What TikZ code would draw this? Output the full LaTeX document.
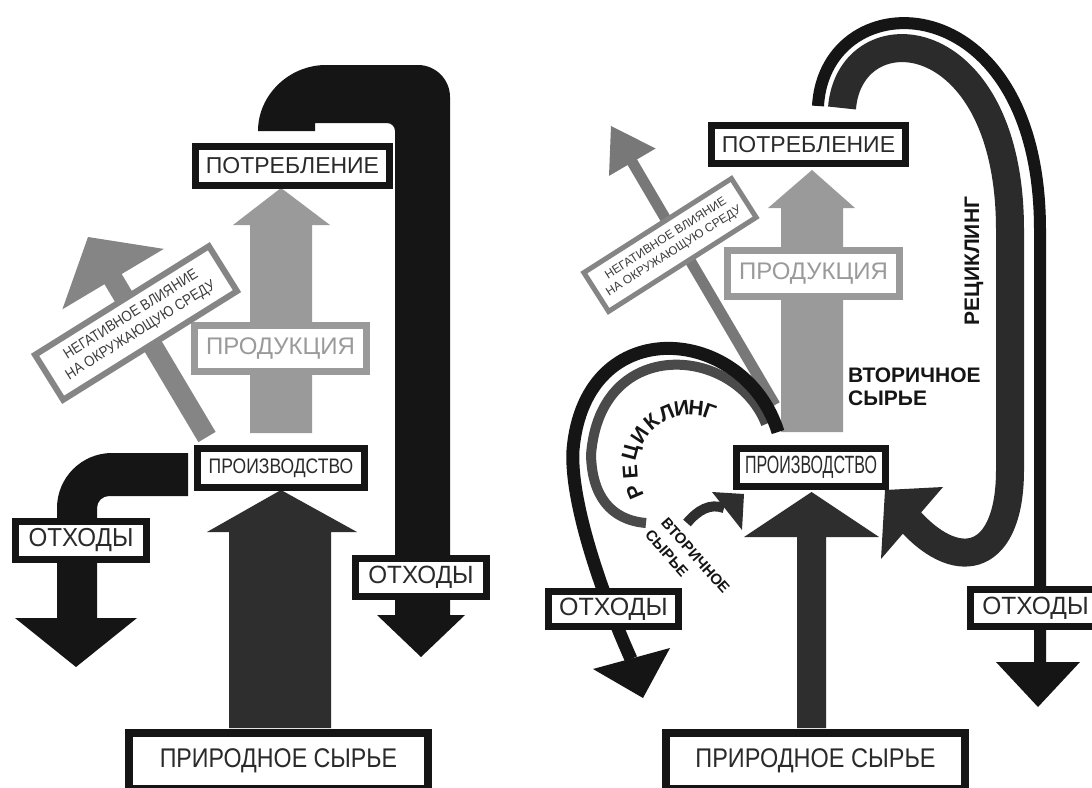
\documentclass[tikz,border=0pt]{standalone}
\usepackage{fontspec}
\setmainfont{Liberation Sans}
\usepackage{graphicx}
\newcommand\myfs[1]{\fontsize{#1}{#1}\selectfont}
\newcommand\nx[2]{\scalebox{#1}[1]{#2}}
\definecolor{pipe}{HTML}{151515}
\definecolor{dark}{HTML}{2E2E2E}
\definecolor{prod}{HTML}{9A9A9A}
\definecolor{neg}{HTML}{858585}
\definecolor{negtxt}{HTML}{3C3C3C}
\definecolor{txt}{HTML}{2A2A2A}
\definecolor{band}{HTML}{2B2B2B}
\definecolor{loopband}{HTML}{4A4A4A}
\begin{document}
\begin{tikzpicture}[x=1pt,y=-1pt,
  blackbox/.style={draw=pipe, line width=7pt, fill=white, inner sep=0pt, text=txt},
  graybox/.style={draw=prod, line width=7pt, fill=white, inner sep=0pt, text=prod},
  negbox/.style={draw=neg, fill=white, inner sep=0pt, text=negtxt, align=center},
  boldlbl/.style={inner sep=0pt, text=pipe, font=\bfseries\myfs{21}}]
\clip (0,0) rectangle (1092,787);
\fill[white] (0,0) rectangle (1092,787);

% ================= LEFT PANEL =================
% black pipe from consumption to waste
\fill[pipe] (258,131) .. controls (258,95) and (289,65) .. (326,65) -- (418,65)
  .. controls (435.6,65) and (450,79.4) .. (450,97) -- (450,615) -- (465,615) -- (421,657)
  -- (377,615) -- (395,615) -- (395,131) .. controls (395,126.6) and (391.4,123) .. (387,123)
  -- (315,123) -- (315,131) -- cycle;
% bent pipe from production to waste
\fill[pipe] (188,453) -- (112,453) .. controls (81.6,453) and (57,477.6) .. (57,508)
  -- (57,618) -- (15,618) -- (76,667) -- (137,618) -- (97,618) -- (97,508)
  .. controls (97,501.4) and (102.4,496) .. (109,496) -- (188,496) -- cycle;
% natural raw material arrow
\fill[dark] (229,728) -- (229,532) -- (207,532) -- (281,490) -- (357,532) -- (331,532) -- (331,728) -- cycle;
% production arrow
\fill[prod] (250,433) -- (250,225) -- (233,225) -- (281,188) -- (330,225) -- (312,225) -- (312,433) -- cycle;
% negative influence arrow
\fill[neg] (215.6,431.9) -- (121.7,274.0) -- (163.8,248.9) -- (88,237) -- (62.4,309.3) -- (104.5,284.2) -- (198.4,442.1) -- cycle;

\node[blackbox, minimum width=194pt, minimum height=39pt, font=\myfs{23}] (potrL) at (292.5,166) {ПОТРЕБЛЕНИЕ};
\node[graybox, minimum width=172pt, minimum height=46pt, font=\myfs{24}] (prodL) at (280.5,348.5) {ПРОДУКЦИЯ};
\node[blackbox, minimum width=167pt, minimum height=39pt, font=\myfs{21}] (proizvL) at (281,468) {\nx{0.835}{ПРОИЗВОДСТВО}};
\node[blackbox, line width=8pt, minimum width=299pt, minimum height=56pt, font=\myfs{27}] (prirL) at (278.5,761) {\nx{0.86}{ПРИРОДНОЕ СЫРЬЕ}};
\node[blackbox, minimum width=131pt, minimum height=38pt, font=\myfs{26}] (othA) at (81,540.5) {\nx{0.93}{ОТХОДЫ}};
\node[blackbox, minimum width=131pt, minimum height=38pt, font=\myfs{25}] (othB) at (421,577.5) {\nx{0.97}{ОТХОДЫ}};
\node[negbox, line width=6pt, minimum width=205pt, minimum height=53pt, rotate=32, font=\fontsize{15}{18.5}\selectfont] (negL) at (136,323) {\nx{0.88}{НЕГАТИВНОЕ ВЛИЯНИЕ}\\\nx{0.88}{НА ОКРУЖАЮЩУЮ СРЕДУ}};

% ================= RIGHT PANEL =================
% outer thin recycling/waste line
\draw[pipe, line width=12pt] (818,106) .. controls (825,-20) and (1040,-20) .. (1040,230) -- (1040,662);
\fill[pipe] (996,662) -- (1080,662) -- (1038,707) -- cycle;
% recycling band back to production
\draw[band, line width=28pt] (842,108) .. controls (850,10) and (1010,20) .. (1010,230) -- (1010,470)
  .. controls (1010,560) and (960,575) .. (911,522);
\fill[band] (943,487) -- (885,490) -- (881,559) -- cycle;

% production arrow
\fill[prod] (781,432) -- (781,208) -- (768,208) -- (812,170) -- (855,208) -- (843,208) -- (843,432) -- cycle;
% natural raw material arrow
\fill[dark] (797,728) -- (797,537) -- (744,537) -- (811.5,492) -- (879,537) -- (826,537) -- (826,728) -- cycle;
% negative influence arrow
\fill[neg!90!black] (779.7,402.2) -- (637.0,159.4) -- (655.6,148.5) -- (611,126) -- (609.0,175.9) -- (627.6,165.0) -- (770.3,407.8) -- cycle;

% inner recycling loop
\draw[loopband, line width=10pt] (766,424) .. controls (735,345) and (600,335) .. (591,455)
  .. controls (592,495) and (610,520) .. (646,523);
\draw[pipe, line width=13pt] (778,432) .. controls (745,325) and (585,310) .. (573,450)
  .. controls (570,500) and (600,590) .. (631,659);
\fill[pipe] (593,669) -- (670,648) -- (643,698) -- cycle;
% small secondary raw material arrow
\draw[dark, line width=10pt] (687,523) .. controls (698,510) and (710,503) .. (724,508);
\fill[dark] (712,492) -- (744,494) -- (742,530) -- cycle;

\node[blackbox, minimum width=194pt, minimum height=38pt, font=\myfs{23}] (potrR) at (808.5,144.5) {ПОТРЕБЛЕНИЕ};
\node[graybox, minimum width=172pt, minimum height=46pt, font=\myfs{24}] (prodR) at (813.5,273.5) {ПРОДУКЦИЯ};
\node[blackbox, minimum width=149pt, minimum height=38pt, font=\myfs{25}] (proizvR) at (811,467.5) {\nx{0.64}{ПРОИЗВОДСТВО}};
\node[blackbox, line width=8pt, minimum width=299pt, minimum height=56pt, font=\myfs{27}] (prirR) at (815.5,761) {\nx{0.87}{ПРИРОДНОЕ СЫРЬЕ}};
\node[blackbox, minimum width=130pt, minimum height=35pt, font=\myfs{25}] (othC) at (613.5,609) {ОТХОДЫ};
\node[blackbox, minimum width=130pt, minimum height=37pt, font=\myfs{25}] (othD) at (1035.5,608) {\nx{0.98}{ОТХОДЫ}};
\node[negbox, line width=5pt, minimum width=175pt, minimum height=46pt, rotate=32.5, font=\fontsize{12}{15}\selectfont] (negR) at (670,245) {НЕГАТИВНОЕ ВЛИЯНИЕ\\НА ОКРУЖАЮЩУЮ СРЕДУ};

\node[boldlbl, rotate=90] (recV) at (974,261) {РЕЦИКЛИНГ};
\node[boldlbl, anchor=west, align=left, font=\bfseries\fontsize{21}{23}\selectfont] (vtorBig) at (848,387) {ВТОРИЧНОЕ\\СЫРЬЕ};
\node[inner sep=0pt, text=pipe, rotate=-48.5, anchor=west, font=\bfseries\myfs{15}] (vtorS1) at (664,520) {ВТОРИЧНОЕ};
\node[inner sep=0pt, text=pipe, rotate=-48.5, anchor=west, font=\bfseries\myfs{15}] (vtorS2) at (648,532) {СЫРЬЕ};
\foreach \ch/\a [count=\i] in {Р/203, Е/184, Ц/165, И/147, К/130, Л/113, И/98, Н/84, Г/71}
  \node[inner sep=0pt, text=pipe, rotate=\a-90, font=\bfseries\myfs{21}] (rc\i) at ({690+60*cos(\a)},{468-60*sin(\a)}) {\ch};
\end{tikzpicture}
\end{document}
